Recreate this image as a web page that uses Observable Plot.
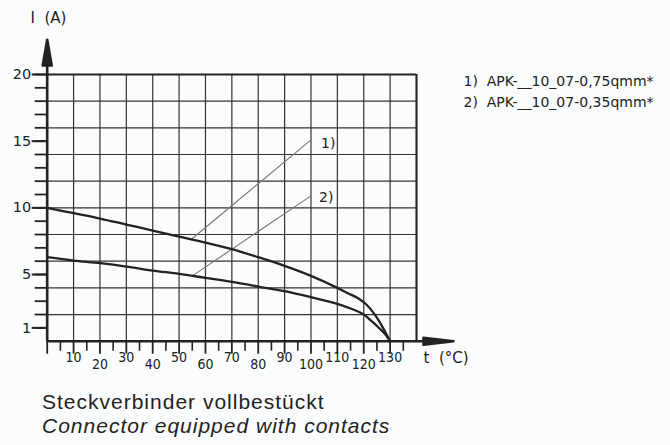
<!DOCTYPE html>
<html><head><meta charset="utf-8">
<script src="https://cdn.jsdelivr.net/npm/d3@7"></script>
<script src="https://cdn.jsdelivr.net/npm/@observablehq/plot@0.6"></script>
<style>
body{margin:0;background:#fbfcfd;}
#chart{position:relative;width:670px;height:445px;overflow:hidden;}
#cap{position:absolute;left:42px;top:390px;font-family:"Liberation Sans",Arial,sans-serif;font-size:21px;line-height:23.5px;letter-spacing:1px;color:#222;}
</style></head><body>
<div id="chart"><div id="plot"></div>
<div id="cap"><div>Steckverbinder vollbestückt</div><div style="font-style:italic">Connector equipped with contacts</div></div></div>
<script>
// Curve 1) APK-__10_07-0,75qmm*
const temp1 = [0, 10, 20, 30, 40, 50, 60, 70, 80, 90, 100, 110, 114, 118, 121, 124, 126, 128, 130];
const curr1 = [10, 9.6, 9.2, 8.75, 8.3, 7.85, 7.4, 6.9, 6.3, 5.65, 4.9, 4.0, 3.6, 3.2, 2.75, 2.05, 1.45, 0.75, 0];
// Curve 2) APK-__10_07-0,35qmm*
const temp2 = [0, 10, 20, 30, 40, 50, 60, 70, 80, 90, 100, 110, 115, 120, 123, 126, 128, 130];
const curr2 = [6.3, 6.05, 5.85, 5.6, 5.3, 5.05, 4.75, 4.45, 4.1, 3.75, 3.3, 2.8, 2.45, 2.0, 1.5, 0.95, 0.55, 0];
// callout leader lines
const callout1T = [55, 100], callout1I = [7.7, 15.1];
const callout2T = [55, 100], callout2I = [4.9, 10.9];
// grid and ticks
const gridT = [0,10,20,30,40,50,60,70,80,90,100,110,120,130,140];
const gridI = [0,2,4,6,8,10,12,14,16,18,20];
const yLabelTicks = [1,5,10,15,20];
const yMinorTicks = [1,2,3,4,5,6,7,8,9,10,11,12,13,14,15,16,17,18,19,20];
const xMajorTicks = [0,10,20,30,40,50,60,70,80,90,100,110,120,130];
const xMinorTicks = [5,15,25,35,45,55,65,75,85,95,105,115,125,135];
const xLabelsHigh = [10,30,50,70,90,110,130];
const xLabelsLow = [20,40,60,80,100,120];
const legendLines = ["1)  APK-__10_07-0,75qmm*", "2)  APK-__10_07-0,35qmm*"];

const ink = "#222";
const yArrow = {draw(ctx, l) {
  ctx.moveTo(0, 0); ctx.lineTo(0, -l + 4);
  ctx.moveTo(0, -l); ctx.lineTo(-4.5, -9); ctx.lineTo(4.5, -9); ctx.closePath();
}};
const xArrow = {draw(ctx, l) {
  ctx.moveTo(0, 0); ctx.lineTo(0, -l + 4);
  ctx.moveTo(0, -l); ctx.lineTo(-3.5, -7); ctx.lineTo(3.5, -7); ctx.closePath();
}};

const H = 380;
const chart = Plot.plot({
  width: 670, height: H,
  marginLeft: 46.7, marginRight: 254, marginTop: 74, marginBottom: H - 340.7,
  x: {domain: [0, 140], label: null},
  y: {domain: [0, 20], label: null},
  style: {background: "transparent", fontFamily: "DejaVu Sans", color: ink, overflow: "visible"},
  marks: [
    Plot.ruleX(gridT, {y1: 0, y2: 20, stroke: "#333", strokeWidth: 1.2}),
    Plot.ruleY(gridI, {x1: 0, x2: 140, stroke: "#333", strokeWidth: 1.2}),
    // frame
    Plot.ruleY([20], {x1: 0, x2: 140, stroke: ink, strokeWidth: 2}),
    Plot.ruleX([140], {y1: 0, y2: 20, stroke: ink, strokeWidth: 2}),
    Plot.ruleX([0], {y1: 0, y2: 20, stroke: ink, strokeWidth: 2.6}),
    Plot.ruleY([0], {x1: 0, x2: 140, stroke: ink, strokeWidth: 2.6}),
    // arrows
    Plot.vector([20], {x: 0, y: d => d, length: 34.7, anchor: "start", shape: yArrow, fill: ink, stroke: ink, strokeWidth: 2.6}),
    Plot.vector([0], {x: 140, y: d => d, length: 37, rotate: 90, anchor: "start", shape: xArrow, fill: ink, stroke: ink, strokeWidth: 2.6}),
    // axes
    Plot.axisY(yLabelTicks, {tickSize: 15, tickPadding: 1, fontSize: 14.5, strokeWidth: 2, stroke: ink}),
    Plot.axisY(yMinorTicks, {tickSize: 12, text: null, strokeWidth: 1.8, stroke: ink}),
    Plot.axisX(xMajorTicks, {tickSize: 13, text: null, strokeWidth: 1.8, stroke: ink}),
    Plot.axisX(xMinorTicks, {tickSize: 10, text: null, strokeWidth: 1.6, stroke: ink}),
    Plot.text(xLabelsHigh, {x: d => d, frameAnchor: "bottom", dy: 20.5, lineAnchor: "bottom", fontSize: 14, fontFamily: "DejaVu Sans Condensed"}),
    Plot.text(xLabelsLow, {x: d => d, frameAnchor: "bottom", dy: 27.5, lineAnchor: "bottom", fontSize: 14, fontFamily: "DejaVu Sans Condensed"}),
    // leader lines
    Plot.line(callout1I, {x: callout1T, y: callout1I, stroke: "#777", strokeWidth: 1.1}),
    Plot.line(callout2I, {x: callout2T, y: callout2I, stroke: "#777", strokeWidth: 1.1}),
    // curves
    Plot.line(curr1, {x: temp1, y: curr1, curve: "monotone-x", stroke: ink, strokeWidth: 2.3}),
    Plot.line(curr2, {x: temp2, y: curr2, curve: "monotone-x", stroke: ink, strokeWidth: 2.3}),
    // callout labels
    Plot.text(["1)"], {x: [callout1T[1]], y: [callout1I[1]], dx: 10, dy: 8.6, textAnchor: "start", lineAnchor: "bottom", fontSize: 14}),
    Plot.text(["2)"], {x: [callout2T[1]], y: [callout2I[1]], dx: 8, dy: 6.6, textAnchor: "start", lineAnchor: "bottom", fontSize: 14}),
    // axis titles
    Plot.text(["I  (A)"], {frameAnchor: "top-left", dx: -16.7, dy: -51.3, textAnchor: "start", lineAnchor: "bottom", fontSize: 15}),
    Plot.text(["t  (°C)"], {frameAnchor: "bottom-right", dx: 7, dy: 22, textAnchor: "start", lineAnchor: "bottom", fontSize: 15}),
    // legend
    Plot.text([legendLines[0]], {frameAnchor: "top-right", dx: 47, dy: 11, textAnchor: "start", lineAnchor: "bottom", fontSize: 14}),
    Plot.text([legendLines[1]], {frameAnchor: "top-right", dx: 47, dy: 32.7, textAnchor: "start", lineAnchor: "bottom", fontSize: 14})
  ]
});
document.getElementById("plot").append(chart);
</script>
</body></html>
